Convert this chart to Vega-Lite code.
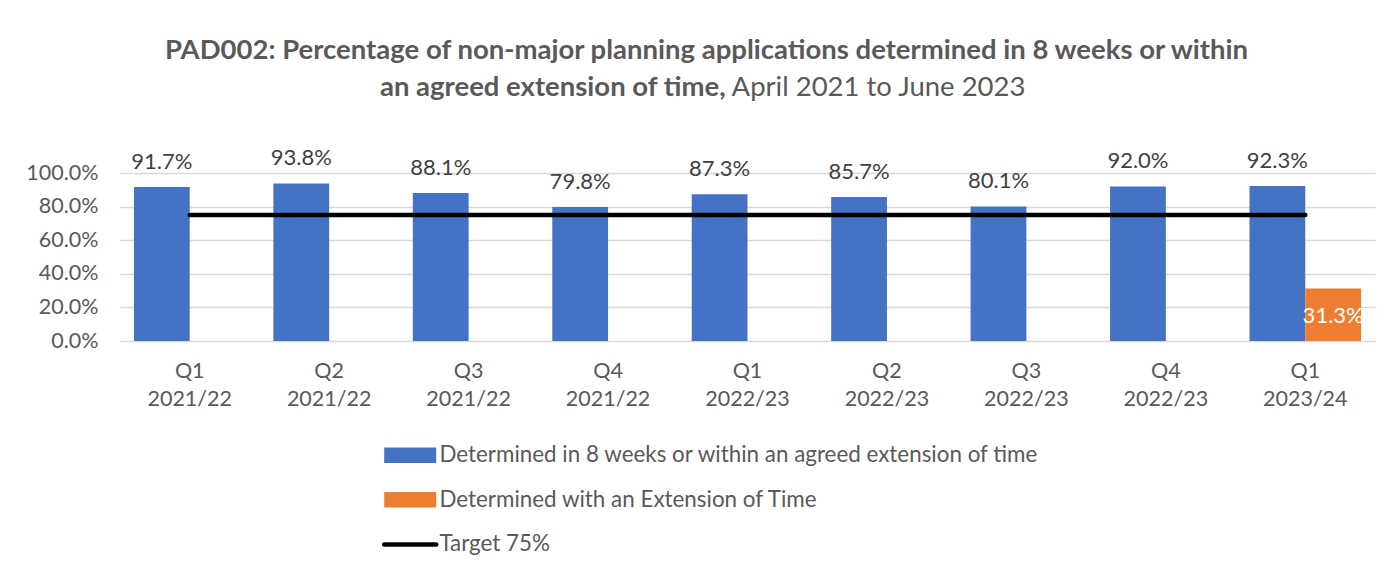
{
  "$schema": "https://vega.github.io/schema/vega-lite/v6.json",
  "autosize": {"type": "none"},
  "width": 1255,
  "height": 168,
  "padding": {"left": 120, "top": 173, "right": 19, "bottom": 228},
  "background": "white",
  "title": {
    "text": ["PAD002: Percentage of non-major planning applications determined in 8 weeks or within", "\u200ban agreed extension of time,\u00a0\u00a0\u00a0\u00a0\u00a0\u00a0\u00a0\u00a0\u00a0\u00a0\u00a0\u00a0\u00a0\u00a0\u00a0\u00a0\u00a0\u00a0\u00a0\u00a0\u00a0\u00a0\u00a0\u00a0\u00a0\u00a0\u00a0\u00a0\u00a0\u00a0\u00a0\u00a0\u00a0\u00a0\u00a0\u00a0\u00a0\u00a0\u00a0\u00a0\u00a0\u00a0\u00a0\u00a0\u00a0\u00a0\u200b"],
    "subtitle": "\u200b\u00a0\u00a0\u00a0\u00a0\u00a0\u00a0\u00a0\u00a0\u00a0\u00a0\u00a0\u00a0\u00a0\u00a0\u00a0\u00a0\u00a0\u00a0\u00a0\u00a0\u00a0\u00a0\u00a0\u00a0\u00a0\u00a0\u00a0\u00a0\u00a0\u00a0\u00a0\u00a0\u00a0\u00a0\u00a0\u00a0\u00a0\u00a0\u00a0\u00a0\u00a0\u00a0\u00a0\u00a0\u00a0\u00a0\u00a0\u00a0\u00a0April 2021 to June 2023\u200b",
    "anchor": "middle",
    "dx": -41,
    "offset": 46,
    "font": "Lato",
    "fontSize": 27.5,
    "fontWeight": "bold",
    "color": "#595959",
    "lineHeight": 37,
    "subtitleFont": "Lato",
    "subtitleFontSize": 27.5,
    "subtitleFontWeight": "normal",
    "subtitleColor": "#595959",
    "subtitlePadding": -27.5
  },
  "data": {
    "values": [
      {"quarter": "Q1 2021/22", "series": "Determined in 8 weeks or within an agreed extension of time", "value": 0.917},
      {"quarter": "Q2 2021/22", "series": "Determined in 8 weeks or within an agreed extension of time", "value": 0.938},
      {"quarter": "Q3 2021/22", "series": "Determined in 8 weeks or within an agreed extension of time", "value": 0.881},
      {"quarter": "Q4 2021/22", "series": "Determined in 8 weeks or within an agreed extension of time", "value": 0.798},
      {"quarter": "Q1 2022/23", "series": "Determined in 8 weeks or within an agreed extension of time", "value": 0.873},
      {"quarter": "Q2 2022/23", "series": "Determined in 8 weeks or within an agreed extension of time", "value": 0.857},
      {"quarter": "Q3 2022/23", "series": "Determined in 8 weeks or within an agreed extension of time", "value": 0.801},
      {"quarter": "Q4 2022/23", "series": "Determined in 8 weeks or within an agreed extension of time", "value": 0.920},
      {"quarter": "Q1 2023/24", "series": "Determined in 8 weeks or within an agreed extension of time", "value": 0.923},
      {"quarter": "Q1 2023/24", "series": "Determined with an Extension of Time", "value": 0.313},
      {"quarter": "Q1 2021/22", "series": "Target 75%", "value": 0.75},
      {"quarter": "Q2 2021/22", "series": "Target 75%", "value": 0.75},
      {"quarter": "Q3 2021/22", "series": "Target 75%", "value": 0.75},
      {"quarter": "Q4 2021/22", "series": "Target 75%", "value": 0.75},
      {"quarter": "Q1 2022/23", "series": "Target 75%", "value": 0.75},
      {"quarter": "Q2 2022/23", "series": "Target 75%", "value": 0.75},
      {"quarter": "Q3 2022/23", "series": "Target 75%", "value": 0.75},
      {"quarter": "Q4 2022/23", "series": "Target 75%", "value": 0.75},
      {"quarter": "Q1 2023/24", "series": "Target 75%", "value": 0.75}
    ]
  },
  "encoding": {
    "x": {
      "field": "quarter",
      "type": "nominal",
      "sort": null,
      "scale": {"paddingInner": 0.2, "paddingOuter": 0.1},
      "axis": {
        "title": null,
        "labelAngle": 0,
        "labelExpr": "split(datum.label, ' ')",
        "labelFont": "Lato",
        "labelFontSize": 21.5,
        "labelColor": "#595959",
        "labelLineHeight": 28,
        "labelPadding": 19,
        "domain": false,
        "ticks": false,
        "grid": false
      }
    },
    "y": {
      "field": "value",
      "type": "quantitative",
      "scale": {"domain": [0, 1]},
      "axis": {
        "title": null,
        "values": [0, 0.2, 0.4, 0.6, 0.8, 1],
        "format": ".1%",
        "labelFont": "Lato",
        "labelFontSize": 21.5,
        "labelColor": "#595959",
        "labelPadding": 22,
        "domain": false,
        "ticks": false,
        "grid": true,
        "gridColor": "#D9D9D9",
        "gridWidth": 1.3
      }
    }
  },
  "layer": [
    {
      "transform": [{"filter": "datum.series !== 'Target 75%'"}],
      "mark": {"type": "bar"},
      "encoding": {
        "xOffset": {"field": "series", "type": "nominal", "sort": ["Determined in 8 weeks or within an agreed extension of time", "Determined with an Extension of Time"]},
        "color": {
          "field": "series",
          "type": "nominal",
          "scale": {
            "domain": ["Determined in 8 weeks or within an agreed extension of time", "Determined with an Extension of Time", "Target 75%"],
            "range": ["#4472C4", "#ED7D31", "#000000"]
          },
          "legend": {
            "title": null,
            "orient": "none",
            "direction": "vertical",
            "legendX": 279,
            "legendY": 271,
            "padding": 0,
            "labelFont": "Lato",
            "labelFontSize": 22.4,
            "labelColor": "#595959",
            "labelLimit": 0,
            "labelOffset": 18,
            "rowPadding": 21.6,
            "symbolSize": 2704,
            "encode": {
              "symbols": {
                "update": {
                  "shape": {"signal": "datum.value === 'Target 75%' ? 'stroke' : 'M-1,-0.3L1,-0.3L1,0.3L-1,0.3Z'"},
                  "size": {"value": 2704},
                  "fill": {"signal": "datum.value === 'Target 75%' ? 'transparent' : scale('color', datum.value)"},
                  "stroke": {"signal": "datum.value === 'Target 75%' ? '#000000' : 'transparent'"},
                  "strokeWidth": {"signal": "datum.value === 'Target 75%' ? 4.5 : 0"},
                  "strokeCap": {"value": "round"},
                  "opacity": {"value": 1}
                }
              }
            }
          }
        }
      }
    },
    {
      "transform": [{"filter": "datum.series === 'Target 75%'"}],
      "mark": {"type": "line", "strokeWidth": 4.5, "strokeCap": "round"},
      "encoding": {
        "color": {"field": "series", "type": "nominal"}
      }
    },
    {
      "transform": [{"filter": "datum.series === 'Determined in 8 weeks or within an agreed extension of time'"}],
      "mark": {"type": "text", "baseline": "alphabetic", "dy": -18, "font": "Lato", "fontSize": 22, "color": "#404040"},
      "encoding": {
        "xOffset": {"field": "series", "type": "nominal"},
        "text": {"field": "value", "type": "quantitative", "format": ".1%"}
      }
    },
    {
      "transform": [{"filter": "datum.series === 'Determined with an Extension of Time'"}],
      "mark": {"type": "text", "baseline": "alphabetic", "dy": -18, "font": "Lato", "fontSize": 22, "color": "#FFFFFF"},
      "encoding": {
        "xOffset": {"field": "series", "type": "nominal"},
        "y": {"datum": 0},
        "text": {"field": "value", "type": "quantitative", "format": ".1%"}
      }
    }
  ],
  "config": {
    "view": {"stroke": null}
  }
}
